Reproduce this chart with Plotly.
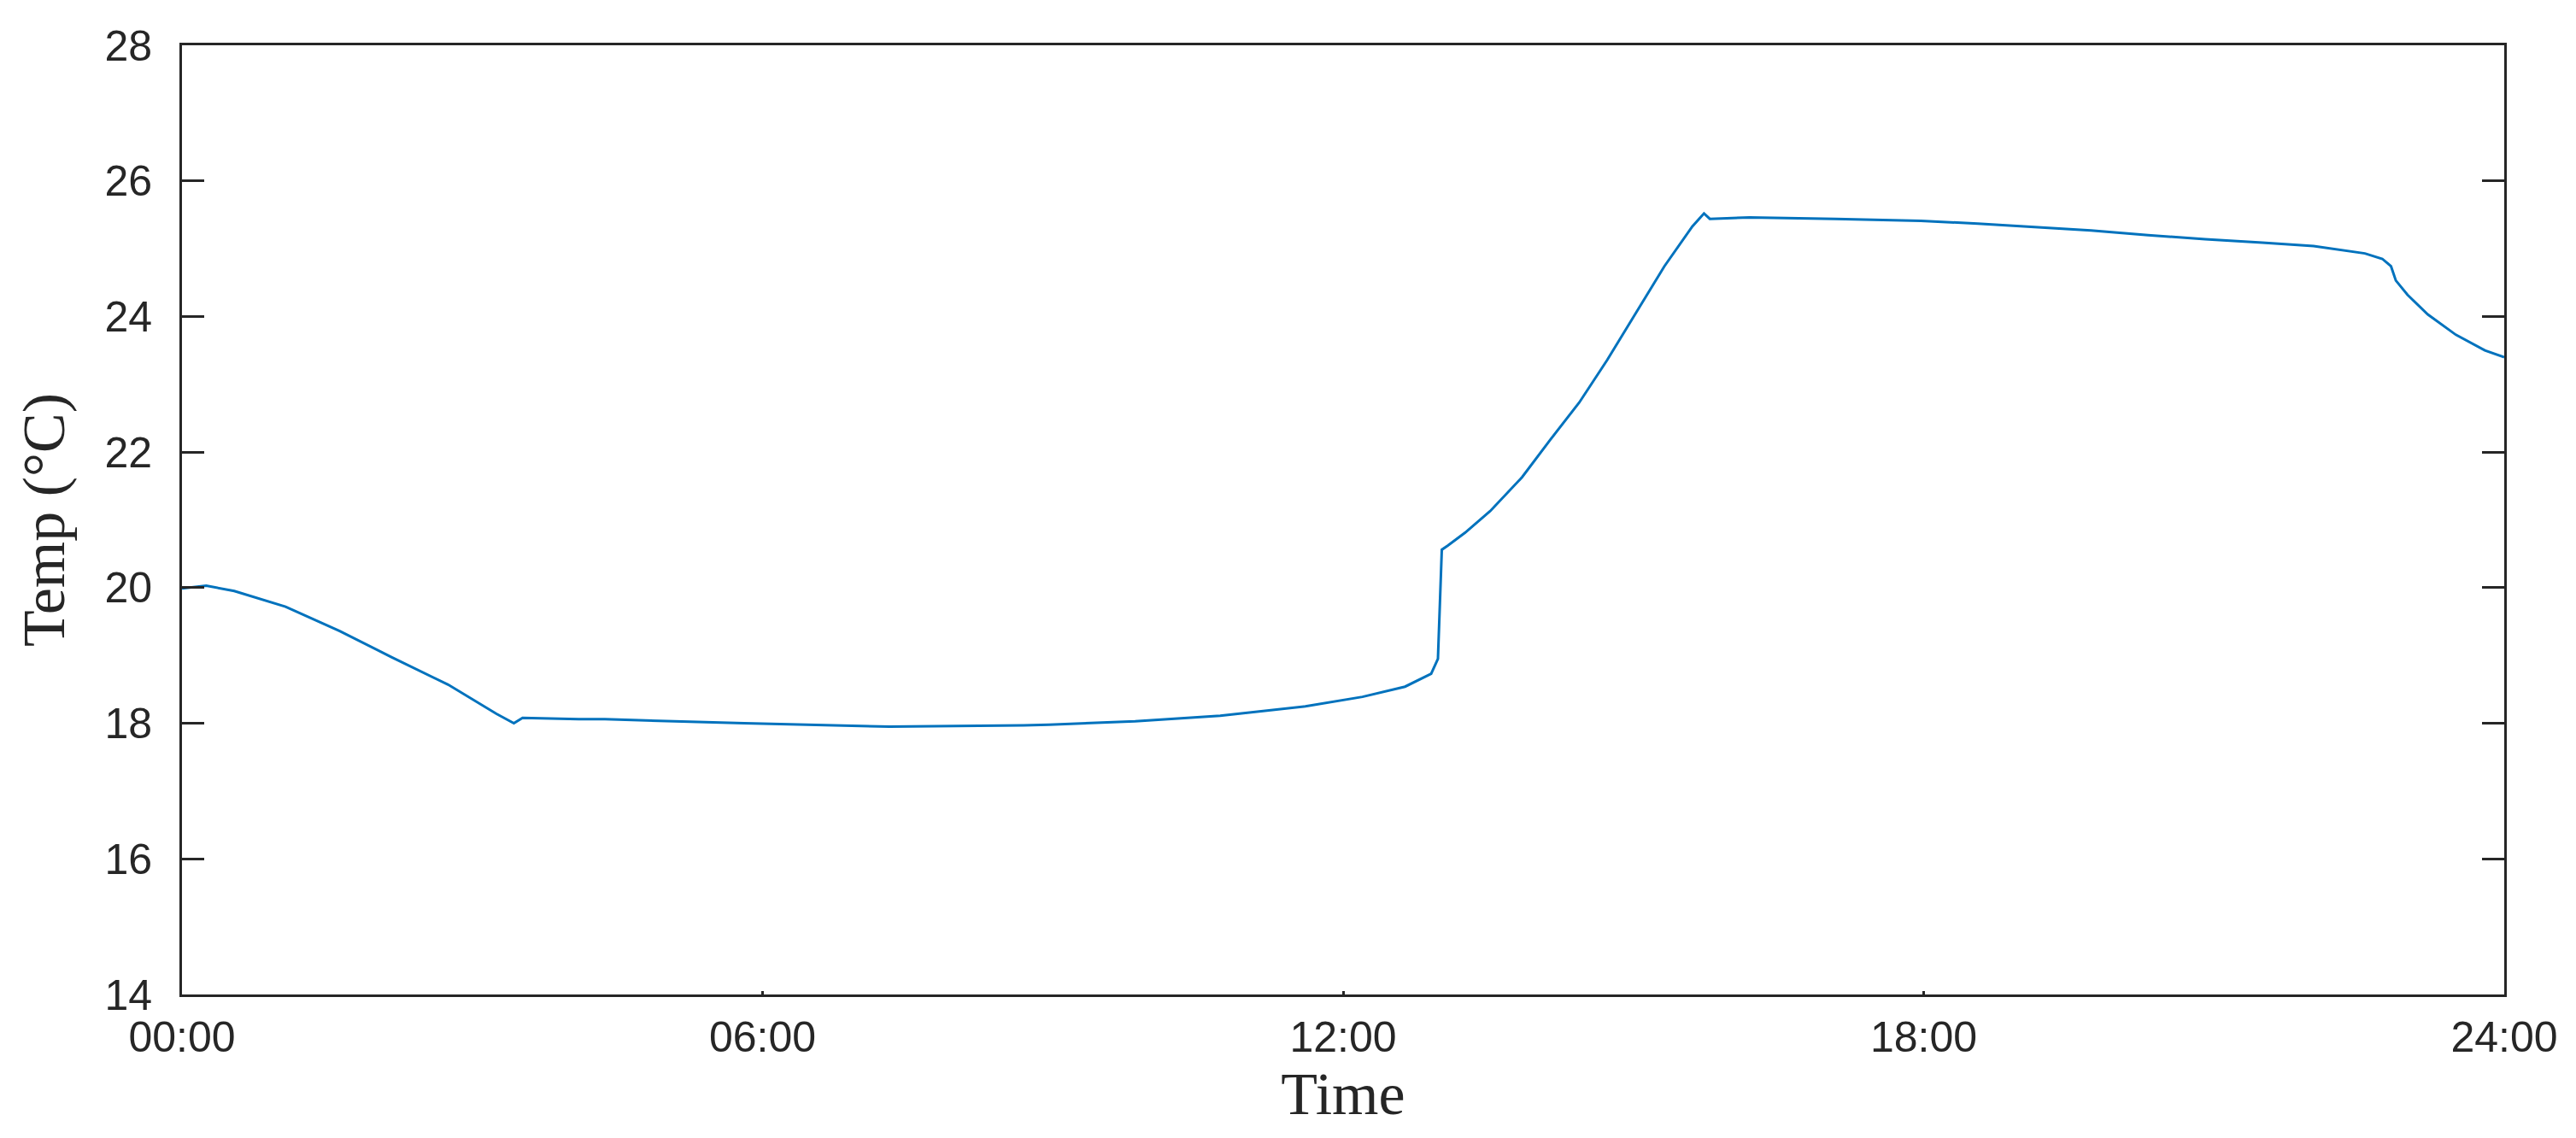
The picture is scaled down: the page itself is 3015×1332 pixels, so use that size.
import plotly.graph_objects as go

# time of day in hours
hours = [0.0, 0.25, 0.54, 1.07, 1.63, 2.16, 2.75, 3.25, 3.43, 3.52, 4.1, 4.37, 5.81, 7.31, 8.7, 8.96,
         9.85, 10.73, 11.61, 12.2, 12.64, 12.91, 12.98, 13.0, 13.02, 13.08, 13.26, 13.52,
         13.85, 14.14, 14.44, 14.73, 15.03, 15.32, 15.61, 15.73, 15.79, 16.2, 17.09, 17.97,
         18.56, 19.15, 19.73, 20.32, 20.91, 21.5, 22.03, 22.56, 22.74, 22.83, 22.88, 23.0,
         23.21, 23.5, 23.8, 24.0]
temps = [19.99, 20.03, 19.95, 19.72, 19.36, 18.98, 18.57, 18.14, 18.0, 18.08, 18.06, 18.06, 18.0, 17.95, 17.97, 17.98,
         18.03, 18.11, 18.25, 18.39, 18.54, 18.73, 18.95, 19.74, 20.56, 20.62, 20.81, 21.13,
         21.63, 22.18, 22.73, 23.36, 24.07, 24.74, 25.33, 25.52, 25.44, 25.46, 25.44, 25.41,
         25.37, 25.32, 25.27, 25.2, 25.14, 25.09, 25.04, 24.93, 24.85, 24.74, 24.53, 24.32,
         24.03, 23.73, 23.5, 23.4]

x_tickvals = [0, 6, 12, 18, 24]
x_ticktext = ["00:00", "06:00", "12:00", "18:00", "24:00"]
y_tickvals = [14, 16, 18, 20, 22, 24, 26, 28]

fig = go.Figure()
fig.add_trace(go.Scatter(x=hours, y=temps, mode="lines",
                         line=dict(color="#0072BD", width=3), showlegend=False,
                         hoverinfo="skip"))

common = dict(showline=True, linecolor="#262626", linewidth=3,
              ticks="inside", tickwidth=3, tickcolor="#262626",
              showgrid=False, zeroline=False,
              tickfont=dict(family="Liberation Sans, Arial", size=50, color="#262626"))
title_font = dict(family="Liberation Serif, Times New Roman", size=70, color="#262626")

fig.update_xaxes(range=[0, 24], tickvals=x_tickvals, ticktext=x_ticktext,
                 mirror=True, ticklen=4,
                 title=dict(text="Time", font=title_font, standoff=0),
                 ticklabelstandoff=4, **common)
fig.update_yaxes(range=[14, 28], tickvals=y_tickvals,
                 mirror="ticks", ticklen=26,
                 title=dict(text="Temp (°C)", font=title_font, standoff=24),
                 ticklabelstandoff=22, **common)

fig.update_layout(width=3015, height=1332,
                  margin=dict(l=205, r=92, t=45, b=176, autoexpand=False),
                  plot_bgcolor="white", paper_bgcolor="white")

fig.write_html("out.html")
